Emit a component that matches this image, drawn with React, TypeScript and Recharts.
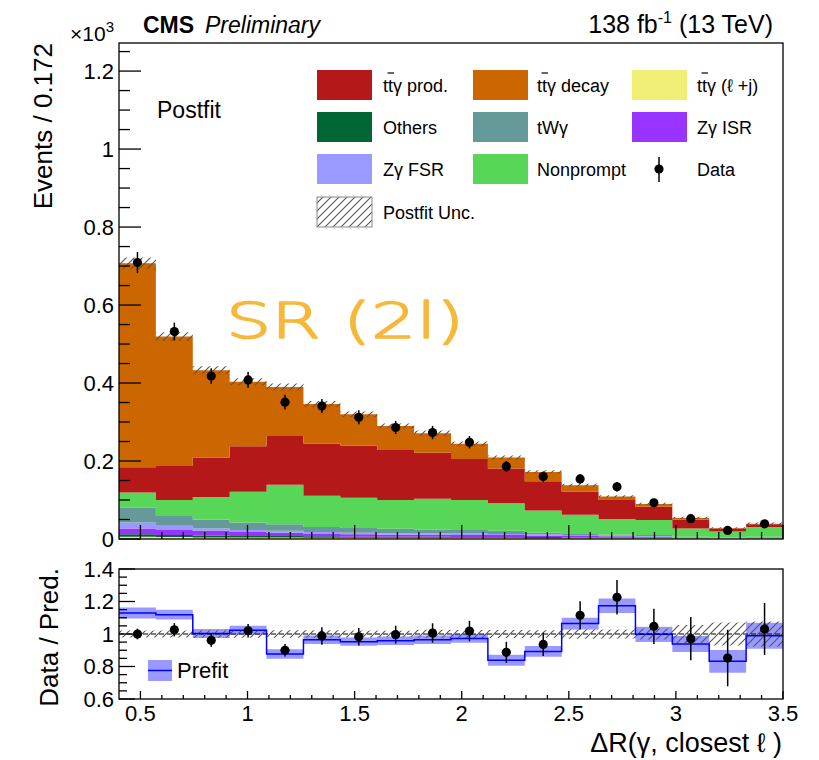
import React from 'react';
import { ComposedChart, Area, Line, Scatter, ErrorBar, XAxis, YAxis, ReferenceLine } from 'recharts';

const FONT = '"Liberation Sans", Arial, Helvetica, sans-serif';

// page geometry (px) - frames of the two pads
const W = 819;
const H = 760;
const PL = 119;
const PR = 783;
const MAIN_TOP = 43;
const MAIN_BOT = 539;
const RAT_TOP = 569;
const RAT_BOT = 699;

// binning of DeltaR(gamma, closest lepton)
const BIN_LO = 0.4;
const BIN_HI = 3.5;
const NBINS = 18;
const BIN_W = (BIN_HI - BIN_LO) / NBINS;

// postfit yields per bin (events), bottom of the stack first
const ttgLJets = [6, 5, 4, 4, 4, 3, 3, 3, 3, 3, 3, 2, 2, 2, 2, 1, 1, 1];
const others = [6, 5, 5, 4, 4, 4, 3, 3, 3, 2, 2, 3, 2, 2, 2, 1, 0, 1];
const zgISR = [15, 13, 12, 10, 8, 6, 6, 5, 5, 5, 5, 4, 4, 3, 2, 1, 1, 1];
const zgFSR = [15, 11, 6, 5, 5, 5, 4, 4, 4, 4, 3, 3, 2, 2, 2, 1, 1, 1];
const tWg = [38, 25, 23, 19, 17, 13, 12, 11, 9, 9, 8, 4, 3, 2, 2, 2, 1, 2];
const nonprompt = [39, 41, 58, 79, 101, 80, 78, 74, 79, 77, 71, 57, 49, 40, 39, 21, 15, 25];
const ttgProd = [65, 87, 101, 117, 125, 134, 134, 128, 118, 105, 89, 75, 60, 49, 34, 23, 8, 7];
const ttgDecay = [523, 332, 224, 165, 126, 101, 80, 62, 50, 39, 28, 24, 16, 9, 7, 4, 1, 1];
const postfitUnc = [15, 11, 10, 9, 9, 8, 7, 6, 7, 6, 5, 4, 4, 3, 3, 3, 2, 3];

// observed
const dataYield = [709, 532, 418, 408, 351, 341, 312, 286, 273, 248, 186, 160, 154, 134, 93, 52, 22, 39];
const dataErr = [27, 23, 20, 20, 19, 18, 18, 17, 17, 16, 14, 13, 12, 12, 10, 7, 5, 6];

// ratio pad
const ratioVal = [1.0, 1.026, 0.961, 1.02, 0.9, 0.988, 0.983, 0.996, 1.006, 1.018, 0.887, 0.936, 1.115, 1.226, 1.047, 0.971, 0.852, 1.031];
const ratioErr = [0.033, 0.041, 0.04, 0.042, 0.038, 0.054, 0.054, 0.055, 0.06, 0.063, 0.065, 0.072, 0.087, 0.106, 0.108, 0.133, 0.174, 0.16];
const prefitRatio = [1.129, 1.119, 1.003, 1.023, 0.877, 0.965, 0.953, 0.959, 0.965, 0.973, 0.838, 0.893, 1.064, 1.174, 0.998, 0.938, 0.832, 0.99];
const prefitUnc = [0.034, 0.03, 0.028, 0.028, 0.029, 0.026, 0.026, 0.026, 0.026, 0.027, 0.034, 0.033, 0.036, 0.045, 0.047, 0.049, 0.07, 0.08];

const COL = {
  ljets: '#f0ee74',
  others: '#006633',
  isr: '#9933ff',
  fsr: '#9999ff',
  twg: '#669999',
  nonprompt: '#57d657',
  prod: '#b51818',
  decay: '#cc6600',
};

const stack = [
  { key: 'ljets', vals: ttgLJets, color: COL.ljets },
  { key: 'others', vals: others, color: COL.others },
  { key: 'isr', vals: zgISR, color: COL.isr },
  { key: 'fsr', vals: zgFSR, color: COL.fsr },
  { key: 'twg', vals: tWg, color: COL.twg },
  { key: 'nonprompt', vals: nonprompt, color: COL.nonprompt },
  { key: 'prod', vals: ttgProd, color: COL.prod },
  { key: 'decay', vals: ttgDecay, color: COL.decay },
];

// one row per bin edge, the last edge repeats the last bin (stepAfter)
const rows = Array.from({ length: NBINS + 1 }, (_, i) => {
  const b = Math.min(i, NBINS - 1);
  const row: any = { x: BIN_LO + i * BIN_W };
  let total = 0;
  stack.forEach(s => {
    row[s.key] = s.vals[b];
    total += s.vals[b];
  });
  row.uncBand = [total - postfitUnc[b], total + postfitUnc[b]];
  row.postBand = [1 - postfitUnc[b] / total, 1 + postfitUnc[b] / total];
  row.prefit = prefitRatio[b];
  row.prefitBand = [prefitRatio[b] - prefitUnc[b], prefitRatio[b] + prefitUnc[b]];
  return row;
});

const points = dataYield.map((y, i) => ({
  x: BIN_LO + (i + 0.5) * BIN_W,
  y,
  err: dataErr[i],
  r: ratioVal[i],
  rErr: ratioErr[i],
}));

const xTicks = Array.from({ length: 31 }, (_, i) => Math.round((0.5 + i * 0.1) * 10) / 10);
const mainYTicks = Array.from({ length: 26 }, (_, i) => i * 50);
const ratioYTicks = Array.from({ length: 17 }, (_, i) => Math.round((0.6 + i * 0.05) * 100) / 100);

const isMult = (v: number, step: number) => Math.abs(v / step - Math.round(v / step)) < 1e-6;

const XTick = ({ x, payload, bottom, major, minor, labels }: any) => {
  const v = payload.value;
  const big = isMult(v, 0.5);
  return (
    <g>
      <line x1={x} x2={x} y1={bottom} y2={bottom - (big ? major : minor)} stroke="#000" strokeWidth={1.3} />
      {labels && big && (
        <text x={x} y={bottom + 22} textAnchor="middle" fontSize={22} fontFamily={FONT} fill="#000">
          {String(v)}
        </text>
      )}
    </g>
  );
};

const YTick = ({ y, payload, step, major, minor, fmt }: any) => {
  const v = payload.value;
  const big = isMult(v, step);
  return (
    <g>
      <line x1={PL} x2={PL + (big ? major : minor)} y1={y} y2={y} stroke="#000" strokeWidth={1.3} />
      {big && (
        <text x={PL - 5} y={y} dy="0.36em" textAnchor="end" fontSize={22} fontFamily={FONT} fill="#000">
          {fmt(v)}
        </text>
      )}
    </g>
  );
};

const dot = (p: any) => <circle cx={p.cx} cy={p.cy} r={4.6} fill="#000" />;

const legend = [
  { row: 0, col: 0, label: 'ttγ prod.', color: COL.prod, bar: true },
  { row: 0, col: 1, label: 'ttγ decay', color: COL.decay, bar: true },
  { row: 0, col: 2, label: 'ttγ (ℓ +j)', color: COL.ljets, bar: true },
  { row: 1, col: 0, label: 'Others', color: COL.others },
  { row: 1, col: 1, label: 'tWγ', color: COL.twg },
  { row: 1, col: 2, label: 'Zγ ISR', color: COL.isr },
  { row: 2, col: 0, label: 'Zγ FSR', color: COL.fsr },
  { row: 2, col: 1, label: 'Nonprompt', color: COL.nonprompt },
  { row: 2, col: 2, label: 'Data', color: 'data' },
  { row: 3, col: 0, label: 'Postfit Unc.', color: 'hatch' },
];
const LEG_BOX_X = [317, 473, 632];
const LEG_TXT_X = [383, 537, 697];
const LEG_ROW_Y = [85, 127, 169, 212];

export default function App() {
  return (
    <div style={{ position: 'absolute', left: 0, top: 0, width: W, height: H, background: '#fff' }}>
      <svg width={0} height={0} style={{ position: 'absolute' }}>
        <defs>
          <pattern id="hatch" patternUnits="userSpaceOnUse" width={8} height={8}>
            <path d="M0,8 L8,0 M-2,2 L2,-2 M6,10 L10,6" stroke="#555" strokeWidth={1.1} />
          </pattern>
        </defs>
      </svg>

      {/* upper pad */}
      <div style={{ position: 'absolute', left: 0, top: 0 }}>
        <ComposedChart width={W} height={H} data={rows} margin={{ top: MAIN_TOP, right: W - PR, left: PL - 50, bottom: H - MAIN_BOT - 10 }}>
          {stack.map(s => (
            <Area key={s.key} dataKey={s.key} stackId="mc" type="stepAfter" fill={s.color} fillOpacity={1} stroke="none" isAnimationActive={false} />
          ))}
          <Area dataKey="uncBand" type="stepAfter" fill="url(#hatch)" fillOpacity={1} stroke="none" isAnimationActive={false} />
          <Scatter data={points} dataKey="y" shape={dot} isAnimationActive={false}>
            <ErrorBar dataKey="err" direction="y" width={0} stroke="#000" strokeWidth={1.5} />
          </Scatter>
          <XAxis type="number" dataKey="x" domain={[BIN_LO, BIN_HI]} ticks={xTicks} interval={0} allowDataOverflow height={10} axisLine={false} tickLine={false}
            tick={(p: any) => <XTick {...p} bottom={MAIN_BOT} major={14} minor={7} labels={false} />} />
          <YAxis type="number" domain={[0, 1272]} ticks={mainYTicks} interval={0} allowDataOverflow width={50} axisLine={false} tickLine={false}
            tick={(p: any) => <YTick {...p} step={200} major={22} minor={11} fmt={(v: number) => String(Math.round(v / 100) / 10)} />} />
        </ComposedChart>
      </div>

      {/* ratio pad */}
      <div style={{ position: 'absolute', left: 0, top: 0 }}>
        <ComposedChart width={W} height={H} data={rows} margin={{ top: RAT_TOP, right: W - PR, left: PL - 50, bottom: H - RAT_BOT - 30 }}>
          <Area dataKey="prefitBand" type="stepAfter" fill="#0000ff" fillOpacity={0.4} stroke="none" isAnimationActive={false} />
          <Line dataKey="prefit" type="stepAfter" stroke="#0000ff" strokeWidth={1.5} dot={false} isAnimationActive={false} />
          <Area dataKey="postBand" type="stepAfter" fill="url(#hatch)" fillOpacity={1} stroke="none" isAnimationActive={false} />
          <ReferenceLine y={1} stroke="#000" strokeDasharray="5 3" strokeWidth={1} />
          <Scatter data={points} dataKey="r" shape={dot} isAnimationActive={false}>
            <ErrorBar dataKey="rErr" direction="y" width={0} stroke="#000" strokeWidth={1.5} />
          </Scatter>
          <XAxis type="number" dataKey="x" domain={[BIN_LO, BIN_HI]} ticks={xTicks} interval={0} allowDataOverflow height={30} axisLine={false} tickLine={false}
            tick={(p: any) => <XTick {...p} bottom={RAT_BOT} major={8} minor={4} labels />} />
          <YAxis type="number" domain={[0.6, 1.4]} ticks={ratioYTicks} interval={0} allowDataOverflow width={50} axisLine={false} tickLine={false}
            tick={(p: any) => <YTick {...p} step={0.2} major={16} minor={8} fmt={(v: number) => String(Math.round(v * 10) / 10)} />} />
        </ComposedChart>
      </div>

      {/* frames, titles, legends */}
      <svg width={W} height={H} style={{ position: 'absolute', left: 0, top: 0, pointerEvents: 'none' }} fontFamily={FONT}>
        <rect x={PL} y={MAIN_TOP} width={PR - PL} height={MAIN_BOT - MAIN_TOP} fill="none" stroke="#000" strokeWidth={1.3} />
        <rect x={PL} y={RAT_TOP} width={PR - PL} height={RAT_BOT - RAT_TOP} fill="none" stroke="#000" strokeWidth={1.3} />

        <text x={143} y={33} fontSize={23} fontWeight="bold">CMS</text>
        <text x={205} y={33} fontSize={23} fontStyle="italic">Preliminary</text>
        <text x={70} y={41} fontSize={21}>×10<tspan fontSize={15} dy={-9}>3</tspan></text>
        <text x={773} y={33} fontSize={25} textAnchor="end">
          138 fb<tspan fontSize={16} dy={-10}>-1</tspan><tspan dy={10}> (13 TeV)</tspan>
        </text>
        <text x={157} y={118} fontSize={23}>Postfit</text>
        <text x={226} y={338} fontSize={50} fontFamily='"DejaVu Sans"' fontWeight={200} fill="#f5b83a" stroke="#f5b83a" strokeWidth={1.6} strokeLinejoin="round" textLength={238} lengthAdjust="spacingAndGlyphs">SR (2l)</text>

        <text transform={`translate(52,${MAIN_TOP}) rotate(-90)`} textAnchor="end" fontSize={26}>Events / 0.172</text>
        <text transform={`translate(58,568) rotate(-90)`} textAnchor="end" fontSize={26}>Data / Pred.</text>
        <text x={782} y={752} textAnchor="end" fontSize={27}>ΔR(γ, closest ℓ )</text>

        {legend.map(l => {
          const cy = LEG_ROW_Y[l.row];
          const bx = LEG_BOX_X[l.col];
          const tx = LEG_TXT_X[l.col];
          return (
            <g key={l.label}>
              {l.color === 'data' ? (
                <g>
                  <line x1={659} x2={659} y1={cy - 12} y2={cy + 13} stroke="#000" strokeWidth={1.5} />
                  <circle cx={659} cy={cy} r={4.6} fill="#000" />
                </g>
              ) : l.color === 'hatch' ? (
                <rect x={bx} y={cy - 15} width={55} height={30} fill="url(#hatch)" stroke="#888" strokeWidth={1} />
              ) : (
                <rect x={bx} y={cy - 15} width={55} height={30} fill={l.color} />
              )}
              <text x={tx} y={cy + 7} fontSize={18}>{l.label}</text>
              {l.bar && <line x1={tx + 4.5} x2={tx + 11} y1={cy - 12} y2={cy - 12} stroke="#000" strokeWidth={1.2} />}
            </g>
          );
        })}

        <rect x={148} y={660} width={24} height={21} fill="#0000ff" fillOpacity={0.4} />
        <line x1={148} x2={172} y1={670.5} y2={670.5} stroke="#0000ff" strokeWidth={1.5} />
        <text x={177} y={678} fontSize={22}>Prefit</text>
      </svg>
    </div>
  );
}
